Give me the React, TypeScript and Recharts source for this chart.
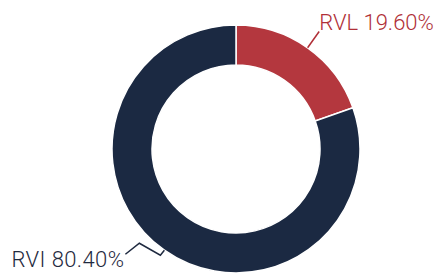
import { PieChart, Pie, Cell } from "recharts";

const names = ["RVL", "RVI"];
const shares = [19.6, 80.4];
const colors = ["#b4373e", "#1b2942"];
const textColors = ["#b02f37", "#1f2a40"];

const data = names.map((name, i) => ({ name, value: shares[i] }));

const RADIAN = Math.PI / 180;

function renderLabel(props: any) {
  const { cx, cy, midAngle, outerRadius, index, name, value } = props;
  const cos = Math.cos(-midAngle * RADIAN);
  const sin = Math.sin(-midAngle * RADIAN);
  const sx = cx + outerRadius * cos;
  const sy = cy + outerRadius * sin;
  const text = `${name} ${value.toFixed(2)}%`;
  const color = textColors[index];

  if (index === 0) {
    const ex = cx + (outerRadius + 20) * cos;
    const ey = cy + (outerRadius + 20) * sin;
    return (
      <g>
        <polyline points={`${sx},${sy} ${ex},${ey}`} stroke={color} strokeWidth={1.5} fill="none" />
        <text x={ex} y={ey - 1} fill={color} textAnchor="start" fontSize={22} fontFamily="Roboto" fontWeight={300}>
          {text}
        </text>
      </g>
    );
  }
  // label pushed aside near the bottom edge, line zig-zags to it
  const pts = [
    [sx, sy],
    [sx - 4, sy + 5],
    [sx - 25, sy - 7],
    [sx - 39, sy + 4],
  ];
  return (
    <g>
      <polyline points={pts.map((p) => p.join(",")).join(" ")} stroke={color} strokeWidth={1.5} fill="none" />
      <text x={sx - 40} y={sy + 17} fill={color} textAnchor="end" fontSize={22} fontFamily="Roboto" fontWeight={300} letterSpacing={0.4}>
        {text}
      </text>
    </g>
  );
}

export default function App() {
  return (
    <div style={{ position: "absolute", left: 0, top: 0, width: 435, height: 273, background: "#fff" }}>
      <PieChart width={435} height={273} margin={{ top: 0, right: 0, bottom: 0, left: 0 }}>
        <Pie
          data={data}
          dataKey="value"
          nameKey="name"
          cx={236}
          cy={149}
          innerRadius={84}
          outerRadius={124}
          startAngle={90}
          endAngle={-270}
          stroke="#ffffff"
          strokeWidth={1.5}
          label={renderLabel}
          labelLine={false}
          isAnimationActive={false}
        >
          {data.map((d, i) => (
            <Cell key={d.name} fill={colors[i]} />
          ))}
        </Pie>
      </PieChart>
    </div>
  );
}
